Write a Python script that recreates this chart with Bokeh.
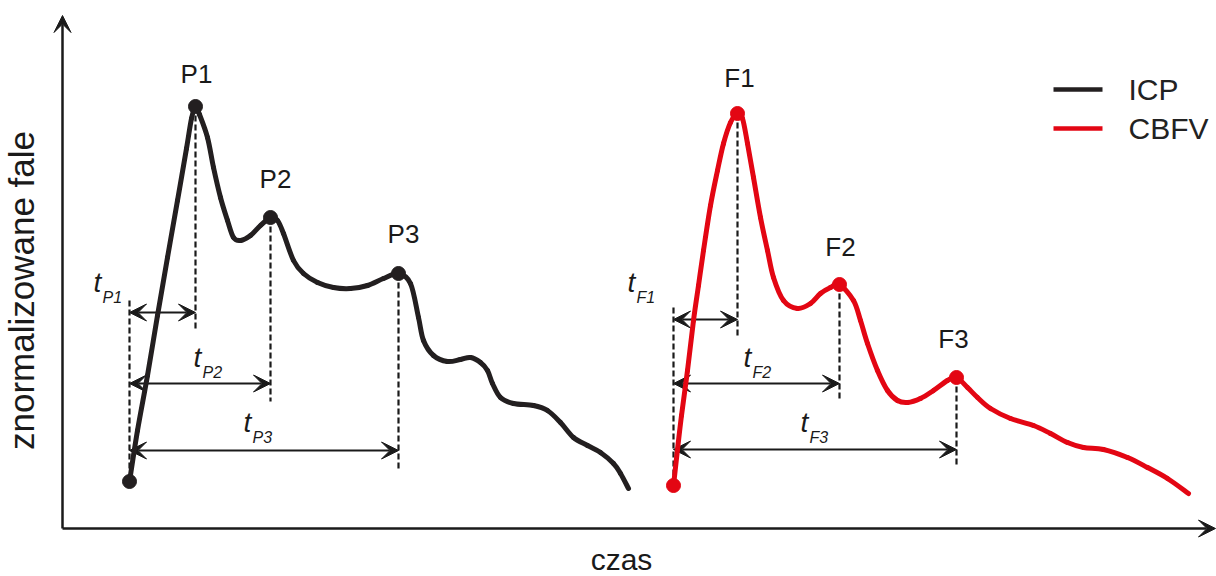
import numpy as np
from bokeh.plotting import figure
from bokeh.models import Range1d, Arrow, VeeHead, ColumnDataSource
from bokeh.core.properties import value
from bokeh.embed import file_html
from bokeh.resources import INLINE

# ---------------------------------------------------------------------------
# Waveform samples: time (arbitrary units) and normalised amplitude
# ---------------------------------------------------------------------------
icp_t = [67, 75, 85, 95, 105, 115, 124, 129, 133,
         137, 145, 151, 158, 165, 171, 178, 188, 198, 208,
         215, 221, 231, 241, 255, 271, 288, 305, 321, 336,
         348, 356, 361, 371, 385, 398, 408, 418, 425, 430,
         438, 451, 471, 485, 498, 511, 525, 538, 551, 558, 566]
icp_v = [47, 98, 153, 213, 271, 328, 380, 410, 422,
         414, 391, 361, 331, 308, 291, 288, 293, 303, 311,
         308, 295, 268, 255, 246, 241, 240, 243, 250, 255,
         245, 211, 188, 173, 167, 169, 171, 166, 158, 145,
         131, 125, 123, 118, 106, 91, 83, 76, 65, 55, 40]

cbfv_t = [611, 615, 619, 625, 631, 636, 641, 648, 655, 661, 668, 675,
          680, 685, 691, 698, 705, 711, 721, 735, 748, 758, 768, 777,
          791, 798, 805, 815, 825, 835, 845, 858, 871, 885, 894,
          905, 915, 928, 948, 971, 988, 1005, 1021, 1041, 1065, 1085, 1105, 1126]
cbfv_v = [43, 79, 113, 158, 208, 243, 278, 323, 358, 385, 406, 415,
          410, 385, 351, 311, 278, 251, 228, 220, 225, 235, 241, 244,
          228, 208, 185, 158, 138, 128, 126, 130, 138, 148, 151,
          141, 131, 120, 110, 103, 95, 86, 81, 79, 71, 61, 50, 35]

# characteristic peaks (times of P1..P3 and F1..F3)
icp_peak_t = [133, 208, 336]
cbfv_peak_t = [675, 777, 894]
icp_names = ["P1", "P2", "P3"]
cbfv_names = ["F1", "F2", "F3"]

series_names = ["ICP", "CBFV"]
x_title = "czas"
y_title = "znormalizowane fale"

# ---------------------------------------------------------------------------
# Layout and styling
# ---------------------------------------------------------------------------
W, H = 1216, 576
X0, Y0 = 62, 528            # axes origin on the canvas
INK = "#1a1a1a"
ICP_COLOR = "#231f20"
CBFV_COLOR = "#e30613"
FONT = "Liberation Sans"

panels = [
    dict(t=icp_t, v=icp_v, peaks=icp_peak_t, names=icp_names, color=ICP_COLOR,
         levels=[216, 145, 78],                         # heights of the interval arrows
         peak_lbl=[(1, 33), (5, 39), (5, 40)],          # peak label offsets
         int_dx=[-36, 64, 114],                         # interval label x (from onset)
         int_dy=[30, 26, 28]),
    dict(t=cbfv_t, v=cbfv_v, peaks=cbfv_peak_t, names=cbfv_names, color=CBFV_COLOR,
         levels=[209, 145, 79],
         peak_lbl=[(2, 36), (1, 38), (-3, 39)],
         int_dx=[-46, 70, 127],
         int_dy=[37, 26, 27]),
]


def bezier_source(t, v):
    """Smooth curve through the samples: Catmull-Rom tangents as cubic Beziers."""
    x = np.asarray(t, float)
    y = np.asarray(v, float)
    xp = np.concatenate([[x[0]], x, [x[-1]]])
    yp = np.concatenate([[y[0]], y, [y[-1]]])
    n = len(x) - 1
    i = np.arange(n)
    return ColumnDataSource(dict(
        x0=xp[i + 1], y0=yp[i + 1],
        x1=xp[i + 2], y1=yp[i + 2],
        cx0=xp[i + 1] + (xp[i + 2] - xp[i]) / 6.0,
        cy0=yp[i + 1] + (yp[i + 2] - yp[i]) / 6.0,
        cx1=xp[i + 2] - (xp[i + 3] - xp[i + 1]) / 6.0,
        cy1=yp[i + 2] - (yp[i + 3] - yp[i + 1]) / 6.0,
    ))


p = figure(width=W, height=H,
           x_range=Range1d(-X0, W - X0), y_range=Range1d(Y0 - H, Y0),
           toolbar_location=None, output_backend="svg", min_border=0,
           x_axis_type=None, y_axis_type=None)
p.outline_line_color = None
p.background_fill_color = "white"
p.border_fill_color = "white"

# axes with arrow heads
axis_head = dict(size=17, fill_color=INK, line_color=INK, line_width=1)
p.add_layout(Arrow(end=VeeHead(**axis_head), x_start=0, y_start=0,
                   x_end=0, y_end=Y0 - 15, line_width=2.5, line_color=INK))
p.add_layout(Arrow(end=VeeHead(**axis_head), x_start=0, y_start=0,
                   x_end=W - X0 - 1, y_end=0, line_width=2.5, line_color=INK))

p.text(x=[559], y=[-31], text=[x_title],
       text_font=value(FONT), text_font_size=value("30px"),
       text_align="center", text_baseline="middle", text_color=INK)
p.text(x=[-41], y=[238], text=[y_title], angle=np.pi / 2,
       text_font=value(FONT), text_font_size=value("35px"),
       text_align="center", text_baseline="middle", text_color=INK)

head = dict(size=17, fill_color=INK, line_color=INK, line_width=1)

for pn in panels:
    t, v = pn["t"], pn["v"]
    onset, base = t[0], v[0]
    pv = [v[t.index(pt)] for pt in pn["peaks"]]
    lv = pn["levels"]

    # dashed guides: onset line and one per peak
    xs = [onset] + pn["peaks"]
    ys0 = [lv[0] + 12] + pv
    ys1 = [base + 10] + [l - 18 for l in lv]
    p.segment(x0=xs, y0=ys0, x1=xs, y1=ys1, line_color=INK,
              line_width=2.2, line_dash="6 3")

    # double-headed interval arrows
    src = ColumnDataSource(dict(xs=[onset] * 3, ys=lv, xe=pn["peaks"], ye=lv))
    p.add_layout(Arrow(start=VeeHead(**head), end=VeeHead(**head),
                       x_start="xs", y_start="ys", x_end="xe", y_end="ye",
                       source=src, line_width=2.2, line_color=INK, level="underlay"))

    # interval labels t with subscript
    tx = [onset + d for d in pn["int_dx"]]
    ty = [l + d for l, d in zip(lv, pn["int_dy"])]
    p.text(x=tx, y=ty, text=["t"] * 3, text_font=value(FONT),
           text_font_size=value("28px"), text_font_style="italic",
           text_align="left", text_baseline="middle", text_color=INK)
    p.text(x=[x + 9 for x in tx], y=[y - 14.5 for y in ty], text=pn["names"],
           text_font=value(FONT), text_font_size=value("16px"),
           text_font_style="italic", text_align="left",
           text_baseline="middle", text_color=INK)

    # waveform
    p.bezier(x0="x0", y0="y0", x1="x1", y1="y1", cx0="cx0", cy0="cy0",
             cx1="cx1", cy1="cy1", source=bezier_source(t, v),
             line_color=pn["color"], line_width=5, line_cap="round",
             line_join="round")

    # onset and peak markers
    p.scatter(x=[onset] + pn["peaks"], y=[base] + pv, size=14,
              fill_color=pn["color"], line_color=pn["color"])

    # peak names
    p.text(x=[pt + d[0] for pt, d in zip(pn["peaks"], pn["peak_lbl"])],
           y=[val + d[1] for val, d in zip(pv, pn["peak_lbl"])],
           text=pn["names"], text_font=value(FONT), text_font_size=value("26px"),
           text_align="center", text_baseline="middle", text_color=INK)

# legend
leg_y = [439, 400]
p.segment(x0=[991, 991], y0=leg_y, x1=[1040, 1040], y1=leg_y,
          line_color=[ICP_COLOR, CBFV_COLOR], line_width=4.5)
p.text(x=[1066, 1066], y=leg_y, text=series_names, text_font=value(FONT),
       text_font_size=value("30px"), text_align="left",
       text_baseline="middle", text_color="#222222")

open("out.html", "w").write(file_html(p, INLINE))
